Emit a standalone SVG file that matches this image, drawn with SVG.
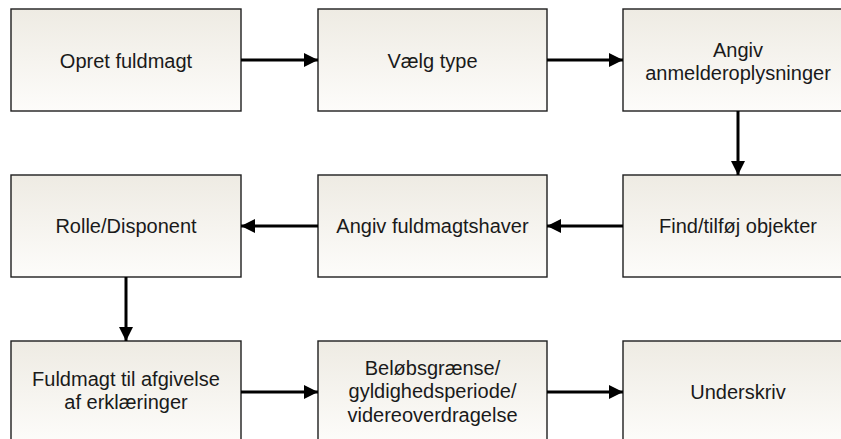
<svg xmlns="http://www.w3.org/2000/svg" width="841" height="439" viewBox="0 0 841 439">
  <defs>
    <linearGradient id="boxFill" x1="0" y1="0" x2="0" y2="1">
      <stop offset="0" stop-color="#eeebe3"/>
      <stop offset="1" stop-color="#fdfcfa"/>
    </linearGradient>
    <marker id="arrow" markerUnits="userSpaceOnUse" markerWidth="14" markerHeight="14" viewBox="0 0 14 14" refX="14" refY="7" orient="auto">
      <path d="M0,0 L14,7 L0,14 Z" fill="#000"/>
    </marker>
    <style>
      .box { fill: url(#boxFill); stroke: #1e1e1e; stroke-width: 1.4; }
      .label { font-family: "Liberation Sans", Arial, sans-serif; font-size: 20px; fill: #1a1a1a; text-anchor: middle; }
      .conn { stroke: #000; stroke-width: 3; fill: none; marker-end: url(#arrow); }
    </style>
  </defs>
  <rect width="841" height="439" fill="#fff"/>

  <!-- Row 1 -->
  <g id="opret-fuldmagt">
    <rect class="box" x="11" y="9" width="230" height="102"/>
    <text class="label" x="126" y="68">Opret fuldmagt</text>
  </g>
  <g id="vaelg-type">
    <rect class="box" x="318" y="9" width="229" height="102"/>
    <text class="label" x="432.5" y="68">Vælg type</text>
  </g>
  <g id="angiv-anmelderoplysninger">
    <rect class="box" x="623" y="9" width="230" height="102"/>
    <text class="label" x="738" y="57"><tspan x="738">Angiv</tspan><tspan x="738" dy="23">anmelderoplysninger</tspan></text>
  </g>

  <!-- Row 2 -->
  <g id="rolle-disponent">
    <rect class="box" x="11" y="175" width="230" height="102"/>
    <text class="label" x="126" y="233">Rolle/Disponent</text>
  </g>
  <g id="angiv-fuldmagtshaver">
    <rect class="box" x="318" y="175" width="229" height="102"/>
    <text class="label" x="432.5" y="233">Angiv fuldmagtshaver</text>
  </g>
  <g id="find-tilfoej-objekter">
    <rect class="box" x="623" y="175" width="230" height="102"/>
    <text class="label" x="738" y="233">Find/tilføj objekter</text>
  </g>

  <!-- Row 3 -->
  <g id="fuldmagt-afgivelse">
    <rect class="box" x="11" y="341" width="230" height="102"/>
    <text class="label" x="126" y="386"><tspan x="126">Fuldmagt til afgivelse</tspan><tspan x="126" dy="23">af erklæringer</tspan></text>
  </g>
  <g id="beloebsgraense">
    <rect class="box" x="318" y="341" width="229" height="102"/>
    <text class="label" x="432.5" y="375"><tspan x="432.5">Beløbsgrænse/</tspan><tspan x="432.5" dy="23.3">gyldighedsperiode/</tspan><tspan x="432.5" dy="23.3">videreoverdragelse</tspan></text>
  </g>
  <g id="underskriv">
    <rect class="box" x="623" y="341" width="230" height="102"/>
    <text class="label" x="738" y="399">Underskriv</text>
  </g>

  <!-- Connectors -->
  <g id="connectors">
    <line class="conn" x1="241" y1="60" x2="318" y2="60"/>
    <line class="conn" x1="547" y1="60" x2="623" y2="60"/>
    <line class="conn" x1="738" y1="111" x2="738" y2="175"/>
    <line class="conn" x1="623" y1="226" x2="547" y2="226"/>
    <line class="conn" x1="318" y1="226" x2="241" y2="226"/>
    <line class="conn" x1="126" y1="277" x2="126" y2="341"/>
    <line class="conn" x1="241" y1="392" x2="318" y2="392"/>
    <line class="conn" x1="547" y1="392" x2="623" y2="392"/>
  </g>
</svg>
